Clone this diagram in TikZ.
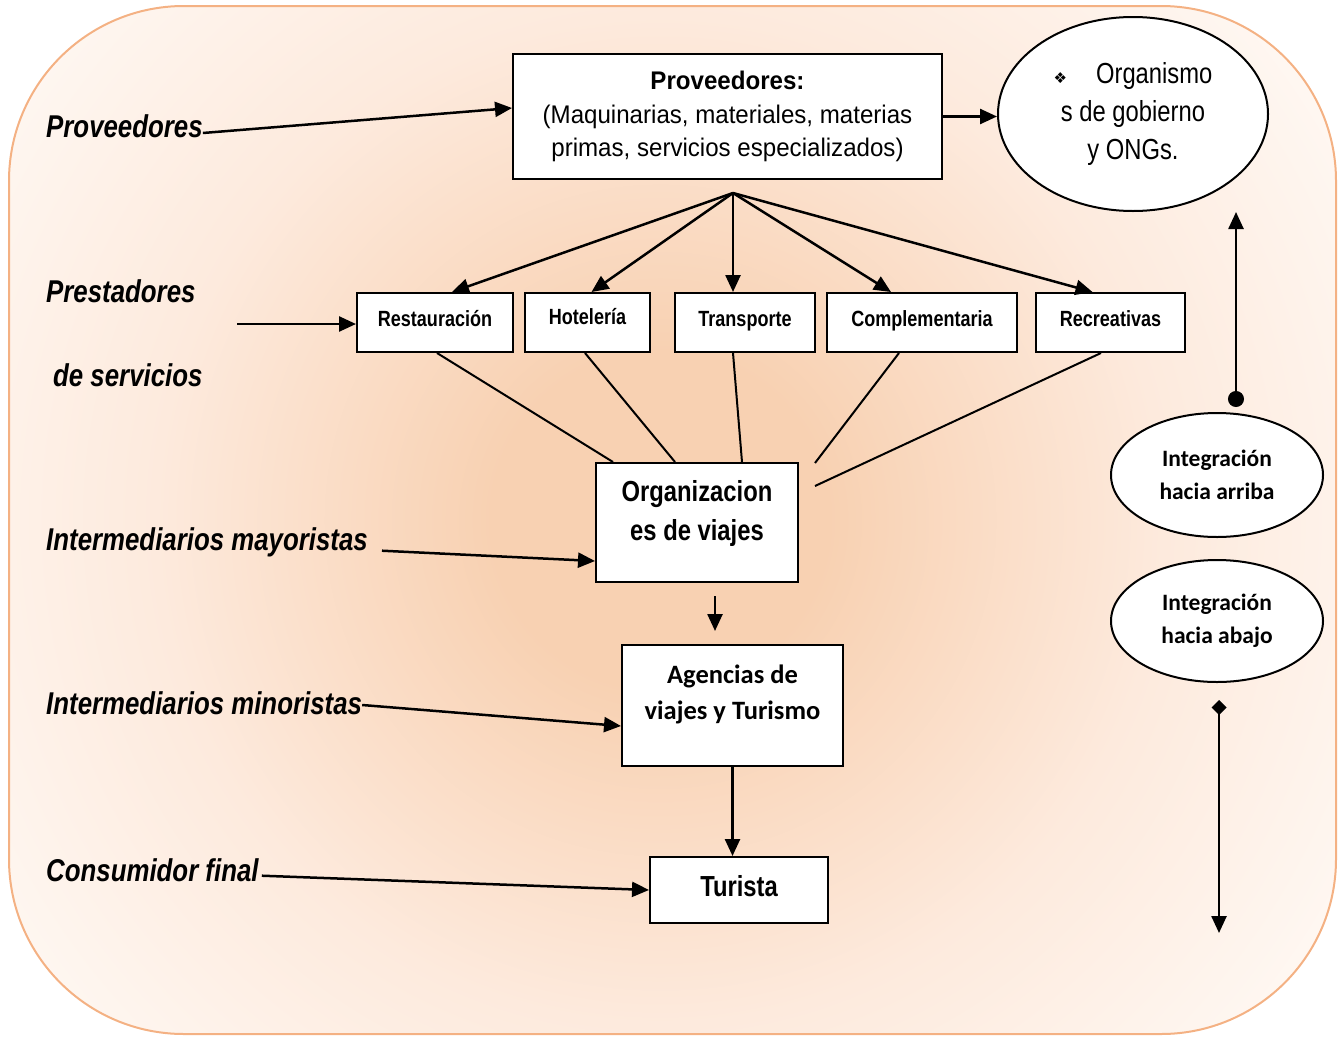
\documentclass[tikz,border=0pt]{standalone}
\usepackage{fontspec}
\setmainfont{Liberation Sans}
\newfontfamily\narrowfont[FakeStretch=0.82]{Liberation Sans}
\newfontfamily\boxfont[FakeStretch=0.945]{Liberation Sans}
\newfontfamily\calibrifont{Carlito}
\newfontfamily\symbolfont{DejaVu Sans}
\usetikzlibrary{arrows.meta,shapes.geometric}

\definecolor{bordeNaranja}{HTML}{F4B183}
\definecolor{fondoCentro}{HTML}{F8D1B2}
\definecolor{fondoMedio}{HTML}{FDEADD}
\definecolor{fondoBorde}{HTML}{FFFAF6}
\pgfdeclareradialshading{brillo}{\pgfpoint{0bp}{0bp}}{%
    color(0bp)=(fondoCentro); color(3bp)=(fondoCentro);
    color(9bp)=(fondoMedio); color(15bp)=(fondoBorde); color(50bp)=(fondoBorde)}

\begin{document}
\begin{tikzpicture}[
    x=1pt, y=-1pt,
    box_style/.style={draw, line width=2pt, fill=white, inner sep=0pt},
    oval_style/.style={draw, ellipse, line width=2pt, fill=white, inner sep=0pt, align=center},
    arrow_style/.style={line width=2.5pt, -{Triangle[length=17pt,width=15pt]}},
    line_style/.style={line width=2pt},
    label_style/.style={anchor=base west, inner sep=0pt, font=\narrowfont\bfseries\itshape\fontsize{31.5}{36}\selectfont},
    small_style/.style={box_style, minimum height=59pt, text height=16pt, text depth=7.5pt, font=\narrowfont\bfseries\fontsize{22}{26}\selectfont}
]

    % --- fondo ---
    \useasboundingbox (0,0) rectangle (1338,1036);
    \begin{scope}
        \clip[rounded corners=175pt] (9,6) rectangle (1336,1034);
        \shade[shading=brillo] (660,520) circle (1400);
    \end{scope}
    \draw[bordeNaranja, line width=2pt, rounded corners=175pt] (9,6) rectangle (1336,1034);

    % --- etiquetas de la izquierda ---
    \node[label_style] (lprov) at (46,137) {Proveedores};
    \node[label_style] (lprest) at (46,302.7) {Prestadores};
    \node[label_style] (lserv) at (53,386.7) {de servicios};
    \node[label_style] (lmay) at (46,550.7) {Intermediarios mayoristas};
    \node[label_style] (lmin) at (46,714) {Intermediarios minoristas};
    \node[label_style] (lcons) at (46,881.7) {Consumidor final};

    % --- cajas ---
    \node[box_style, minimum width=429pt, minimum height=125pt, align=center,
          font=\boxfont\fontsize{25.5}{33.5}\selectfont] (prov) at (727.5,116.5)
        {\textbf{Proveedores:}\\(Maquinarias, materiales, materias\\primas, servicios especializados)};
    \node[oval_style, minimum width=270pt, minimum height=194pt,
          font=\narrowfont\fontsize{29}{38.5}\selectfont] (ong) at (1133,114)
        {{\symbolfont\fontsize{15}{15}\selectfont ❖}\quad Organismo\\s de gobierno\\y ONGs.};

    \node[small_style, minimum width=156pt] (rest) at (435,322.5) {Restauración};
    \node[small_style, minimum width=125pt, text depth=13pt] (hotel) at (587.5,322.5) {Hotelería};
    \node[small_style, minimum width=140pt] (trans) at (745,322.5) {Transporte};
    \node[small_style, minimum width=190pt] (compl) at (922,322.5) {Complementaria};
    \node[small_style, minimum width=149pt] (recr) at (1110.5,322.5) {Recreativas};

    \node[box_style, minimum width=202pt, minimum height=119pt] (org) at (697,522.5) {};
    \node[align=center, font=\narrowfont\bfseries\fontsize{29}{39}\selectfont] (orgtxt) at (697,513)
        {Organizacion\\es de viajes};

    \node[box_style, minimum width=221pt, minimum height=121pt] (agen) at (732.5,705.5) {};
    \node[align=center, font=\calibrifont\bfseries\fontsize{26.5}{36}\selectfont] (agentxt) at (732.5,694.5)
        {Agencias de\\viajes y Turismo};

    \node[box_style, minimum width=178pt, minimum height=66pt, text height=21pt, text depth=9pt,
          font=\narrowfont\bfseries\fontsize{29}{34}\selectfont] (turista) at (739,890) {Turista};

    \node[oval_style, minimum width=212pt, minimum height=124pt,
          font=\calibrifont\bfseries\fontsize{23.5}{33}\selectfont] (arriba) at (1217,475)
        {Integración\\hacia arriba};
    \node[oval_style, minimum width=212pt, minimum height=122pt,
          font=\calibrifont\bfseries\fontsize{23.5}{33}\selectfont] (abajo) at (1217,621)
        {Integración\\hacia abajo};

    % --- conectores ---
    \draw[arrow_style] ([yshift=4pt]lprov.base east) -- ([yshift=8.5pt]prov.west);
    \draw[arrow_style] (prov.east) -- (prov.east -| ong.west);

    % abanico hacia los prestadores
    \coordinate (fan) at (733,193);
    \foreach \dest/\dx in {rest/17, hotel/4, trans/-12, compl/-31, recr/-18} {
        \draw[arrow_style] (fan) -- ([xshift=\dx pt]\dest.north);
    }

    \coordinate (prestin) at (237,324);
    \draw[arrow_style] (prestin) -- (prestin -| rest.west);

    % lineas hacia organizaciones
    \coordinate (c1) at (815,463);
    \coordinate (c2) at (815,486);
    \draw[line_style] ([xshift=2pt]rest.south) -- ([xshift=-84pt]org.north);
    \draw[line_style] ([xshift=-2.5pt]hotel.south) -- ([xshift=-22pt]org.north);
    \draw[line_style] ([xshift=-12pt]trans.south) -- ([xshift=45pt]org.north);
    \draw[line_style] ([xshift=-23pt]compl.south) -- (c1);
    \draw[line_style] ([xshift=-9.5pt]recr.south) -- (c2);

    \draw[arrow_style] ([xshift=14pt]lmay.base east) -- ([yshift=-38.5pt]org.west);
    \draw[arrow_style] ([xshift=18pt,yshift=-13pt]org.south) -- ([xshift=-17.5pt,yshift=13pt]agen.north);
    \draw[arrow_style] ([yshift=9pt]lmin.base east) -- ([yshift=-20.5pt]agen.west);
    \draw[arrow_style] (agen.south) -- (agen.south |- turista.north);
    \draw[arrow_style] ([xshift=3pt,yshift=6pt]lcons.base east) -- (turista.west);

    % integracion
    \coordinate (upend) at (1236,212);
    \coordinate (downend) at (1219,933);
    \draw[arrow_style, {Circle[length=16pt]}-{Triangle[length=17pt,width=15pt]}]
        ([xshift=19pt,yshift=5pt]arriba.north) -- (upend);
    \draw[arrow_style, {Diamond[length=15pt,width=15pt]}-{Triangle[length=17pt,width=15pt]}]
        ([xshift=2pt,yshift=-17pt]abajo.south) -- (downend);

\end{tikzpicture}
\end{document}
